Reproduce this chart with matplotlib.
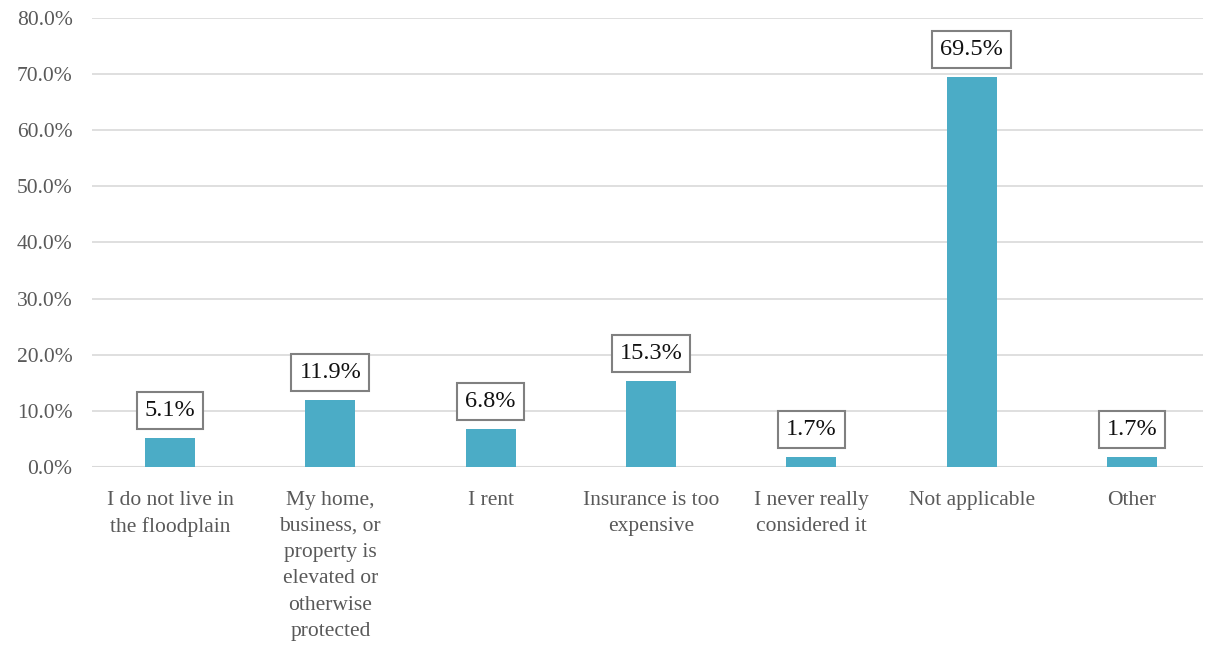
import matplotlib
matplotlib.use("Agg")
import matplotlib.pyplot as plt
from matplotlib.ticker import FuncFormatter

categories = [
    "I do not live in\nthe floodplain",
    "My home,\nbusiness, or\nproperty is\nelevated or\notherwise\nprotected",
    "I rent",
    "Insurance is too\nexpensive",
    "I never really\nconsidered it",
    "Not applicable",
    "Other",
]
values = [5.1, 11.9, 6.8, 15.3, 1.7, 69.5, 1.7]
yticks = [0, 10, 20, 30, 40, 50, 60, 70, 80]

plt.rcParams['font.family'] = ['Liberation Serif', 'DejaVu Serif']

fig = plt.figure(figsize=(12.05, 6.45), dpi=100)
ax = fig.add_axes([92/1205, 1 - 467/645, (1203-92)/1205, (467-18)/645])

x = list(range(len(categories)))
ax.bar(x, values, width=0.31, color="#4BACC6", zorder=3)

ax.set_ylim(0, 80)
ax.set_xlim((92-170)/160.33, (1203-170)/160.33)
ax.set_yticks(yticks)
ax.yaxis.set_major_formatter(FuncFormatter(lambda v, p: f"{v:.1f}%"))
ax.grid(axis='y', color="#d9d9d9", linewidth=1.2, zorder=0)
for s in ax.spines.values():
    s.set_visible(False)
ax.axhline(0, color="#d9d9d9", linewidth=1.5, zorder=2)
ax.tick_params(axis='both', length=0, labelsize=15.5, colors="#595959")
ax.tick_params(axis='y', pad=14)
ax.tick_params(axis='x', pad=17)
ax.set_xticks(x)
ax.set_xticklabels(categories, linespacing=1.52)

for xi, v in zip(x, values):
    ax.annotate(f"{v:.1f}%", (xi, v), xytext=(0, 20), textcoords="offset points",
                ha="center", va="center", fontsize=17.5, color="#111111",
                bbox=dict(boxstyle="square,pad=0.33", fc="white", ec="#808080", lw=1.5),
                zorder=4)

fig.savefig("out.png", dpi=100)
